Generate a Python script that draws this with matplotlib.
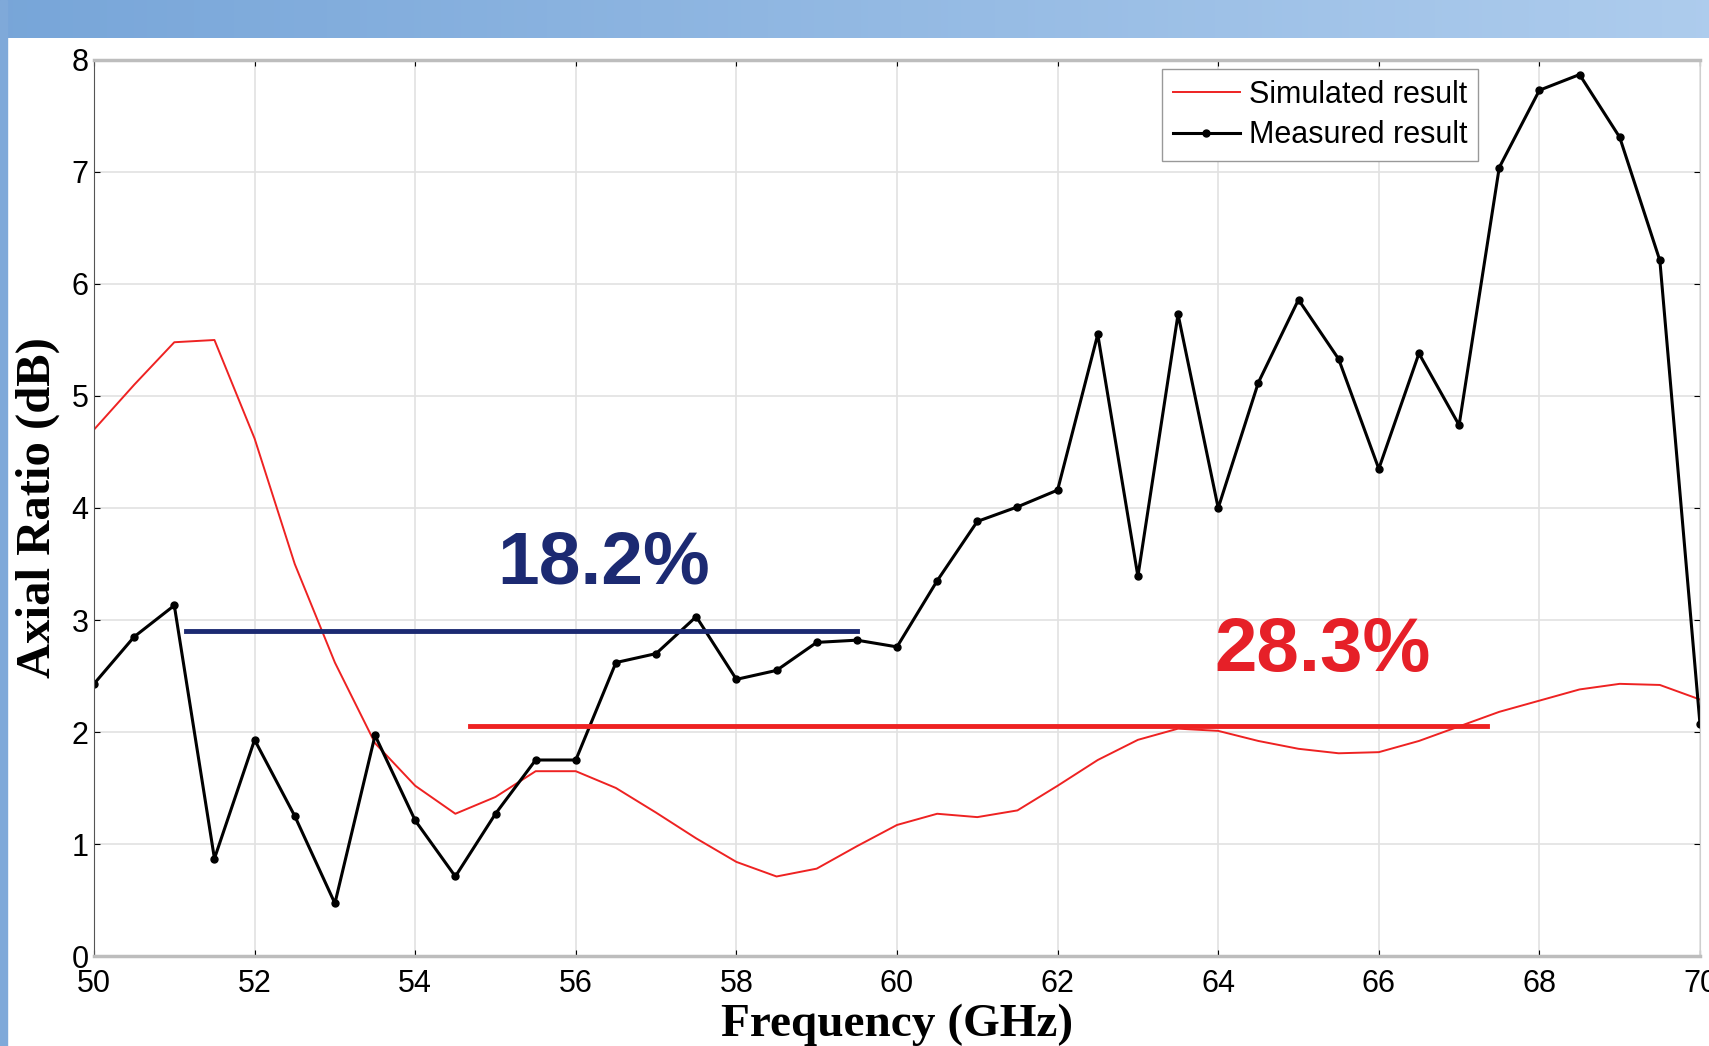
import numpy as np
import matplotlib
matplotlib.use("Agg")
import matplotlib.pyplot as plt
from matplotlib.patches import Rectangle

# frequency points (GHz), every 0.5 GHz
freq = [50 + 0.5 * i for i in range(41)]

simulated = [4.70, 5.10, 5.48, 5.50, 4.62, 3.50, 2.62, 1.90, 1.52, 1.27,
             1.42, 1.65, 1.65, 1.50, 1.28, 1.05, 0.84, 0.71, 0.78, 0.98,
             1.17, 1.27, 1.24, 1.30, 1.52, 1.75, 1.93, 2.03, 2.01, 1.92,
             1.85, 1.81, 1.82, 1.92, 2.05, 2.18, 2.28, 2.38, 2.43, 2.42,
             2.29]

measured = [2.43, 2.85, 3.13, 0.87, 1.93, 1.25, 0.47, 1.97, 1.21, 0.71,
            1.27, 1.75, 1.75, 2.62, 2.70, 3.03, 2.47, 2.55, 2.80, 2.82,
            2.76, 3.35, 3.88, 4.01, 4.16, 5.55, 3.39, 5.73, 4.00, 5.12,
            5.86, 5.33, 4.35, 5.38, 4.74, 7.04, 7.73, 7.87, 7.31, 6.21,
            2.07]

# bandwidth bars: (start, end, level)
meas_band = (51.15, 59.5, 2.9)
sim_band = (54.68, 67.35, 2.05)

xticks = list(range(50, 71, 2))
yticks = list(range(0, 9))

W, H = 1709, 1046
fig = plt.figure(figsize=(W / 100, H / 100), dpi=100)

# blue banner on top and strip on the left
ban = fig.add_axes([0, 1 - 38 / H, 1, 38 / H])
grad = np.linspace(0, 1, 256).reshape(1, -1)
c0 = np.array([0.47, 0.65, 0.85])
c1 = np.array([0.68, 0.80, 0.93])
img = c0[None, None, :] * (1 - grad[..., None]) + c1[None, None, :] * grad[..., None]
ban.imshow(img, aspect="auto", extent=[0, 1, 0, 1])
ban.axis("off")
fig.patches.append(Rectangle((0, 0), 7 / W, 1, transform=fig.transFigure,
                             color="#7fa9d9", zorder=0))

ax = fig.add_axes([94 / W, 1 - 956 / H, (1700 - 94) / W, (956 - 60) / H])

ax.plot(freq, simulated, color="#ee2222", lw=1.4, label="Simulated result")
ax.plot(freq, measured, color="black", lw=2.2, marker="o", ms=5,
        label="Measured result")

ax.plot(meas_band[:2], [meas_band[2]] * 2, color="#1c2a72", lw=3.5)
ax.plot(sim_band[:2], [sim_band[2]] * 2, color="#ee2222", lw=3.5)

ax.text(56.35, 3.5, "18.2%", color="#1c2a72", fontsize=54, fontweight="bold",
        family="Liberation Sans", ha="center", va="center")
ax.text(65.3, 2.72, "28.3%", color="#e62028", fontsize=55, fontweight="bold",
        family="Liberation Sans", ha="center", va="center")

ax.set_xlim(50, 70)
ax.set_ylim(0, 8)
ax.set_xticks(xticks)
ax.set_yticks(yticks)
ax.grid(True, color="#e2e2e2", lw=1.2)
ax.tick_params(direction="in", length=4, top=True, right=True, labelsize=22)
ax.tick_params(axis="x", pad=9)
ax.tick_params(axis="y", pad=4)
for lab in ax.get_xticklabels() + ax.get_yticklabels():
    lab.set_family("Liberation Sans")
for s in ["top", "bottom"]:
    ax.spines[s].set_color("#bdbdbd")
    ax.spines[s].set_linewidth(2.5)
ax.spines["right"].set_color("#cfcfcf")
ax.spines["left"].set_color("#555555")

ax.set_xlabel("Frequency (GHz)", family="Liberation Serif", fontweight="bold",
              fontsize=34, labelpad=4)
ax.set_ylabel("Axial Ratio (dB)", family="Liberation Serif", fontweight="bold",
              fontsize=35, labelpad=8)

leg = ax.legend(loc="upper right", bbox_to_anchor=(0.862, 0.99),
                fancybox=False, edgecolor="#999999", framealpha=1,
                handlelength=2.2, borderpad=0.35, labelspacing=0.35,
                handletextpad=0.3, borderaxespad=0,
                prop={"family": "Liberation Sans", "size": 22})

fig.savefig("out.png", dpi=100)
